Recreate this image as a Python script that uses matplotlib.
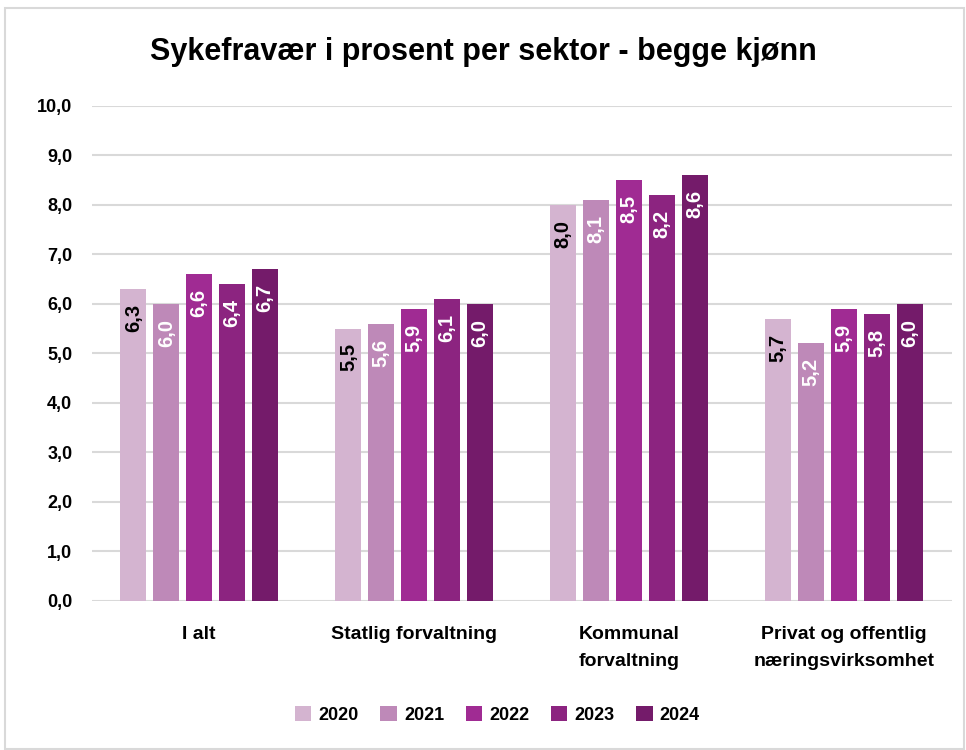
import matplotlib
matplotlib.use("Agg")
import matplotlib.pyplot as plt
import numpy as np
from matplotlib.patches import Rectangle

categories = ["I alt", "Statlig forvaltning", "Kommunal\nforvaltning", "Privat og offentlig\nnæringsvirksomhet"]
years = ["2020", "2021", "2022", "2023", "2024"]
values = {
    "2020": [6.3, 5.5, 8.0, 5.7],
    "2021": [6.0, 5.6, 8.1, 5.2],
    "2022": [6.6, 5.9, 8.5, 5.9],
    "2023": [6.4, 6.1, 8.2, 5.8],
    "2024": [6.7, 6.0, 8.6, 6.0],
}
colors = ["#D4B4D0", "#BE89B8", "#A02B93", "#8C2480", "#741B6A"]
label_colors = ["black", "white", "white", "white", "white"]
yticks = np.arange(0, 10.01, 1.0)

plt.rcParams['font.family'] = ['Liberation Sans', 'DejaVu Sans']

fig = plt.figure(figsize=(9.66, 7.5), dpi=100)
ax = fig.add_axes([0.095, 0.199, 0.89, 0.66])

x = np.arange(len(categories))
width = 0.121
step = 0.153
for i, yr in enumerate(years):
    pos = x + (i - 2) * step
    bars = ax.bar(pos, values[yr], width, color=colors[i], label=yr, zorder=3)
    for b, v in zip(bars, values[yr]):
        ax.text(b.get_x() + b.get_width() / 2, v - 0.3, f"{v:.1f}".replace(".", ","),
                rotation=90, ha="center", va="top", color=label_colors[i],
                fontsize=14.5, fontweight="bold", zorder=4)

ax.set_xlim(-0.5, len(categories) - 0.5)
ax.set_ylim(0, 10)
ax.set_yticks(yticks)
ax.set_yticklabels([f"{t:.1f}".replace(".", ",") for t in yticks], fontsize=13, fontweight="bold")
ax.set_xticks(x)
ax.set_xticklabels(categories, fontsize=14, fontweight="bold", linespacing=1.8)
ax.tick_params(axis="both", length=0)
ax.tick_params(axis="x", pad=18)
ax.tick_params(axis="y", pad=14)
ax.grid(axis="y", color="#D9D9D9", linewidth=1.5, zorder=0)
for s in ax.spines.values():
    s.set_visible(False)

fig.text(0.5, 0.931, "Sykefravær i prosent per sektor - begge kjønn",
         ha="center", va="center", fontsize=22, fontweight="bold",
         family=["Liberation Sans Narrow", "Liberation Sans", "DejaVu Sans"])

leg = fig.legend(loc="center", bbox_to_anchor=(0.515, 0.047), ncol=5, frameon=False,
                 prop={"size": 13, "weight": "bold"}, handlelength=0.9, handleheight=0.9,
                 columnspacing=1.2, handletextpad=0.4)

fig.patches.append(Rectangle((0.005, 0.002), 0.993, 0.987, transform=fig.transFigure,
                             fill=False, edgecolor="#D9D9D9", linewidth=1.5))

fig.savefig("out.png", dpi=100, facecolor="white")
